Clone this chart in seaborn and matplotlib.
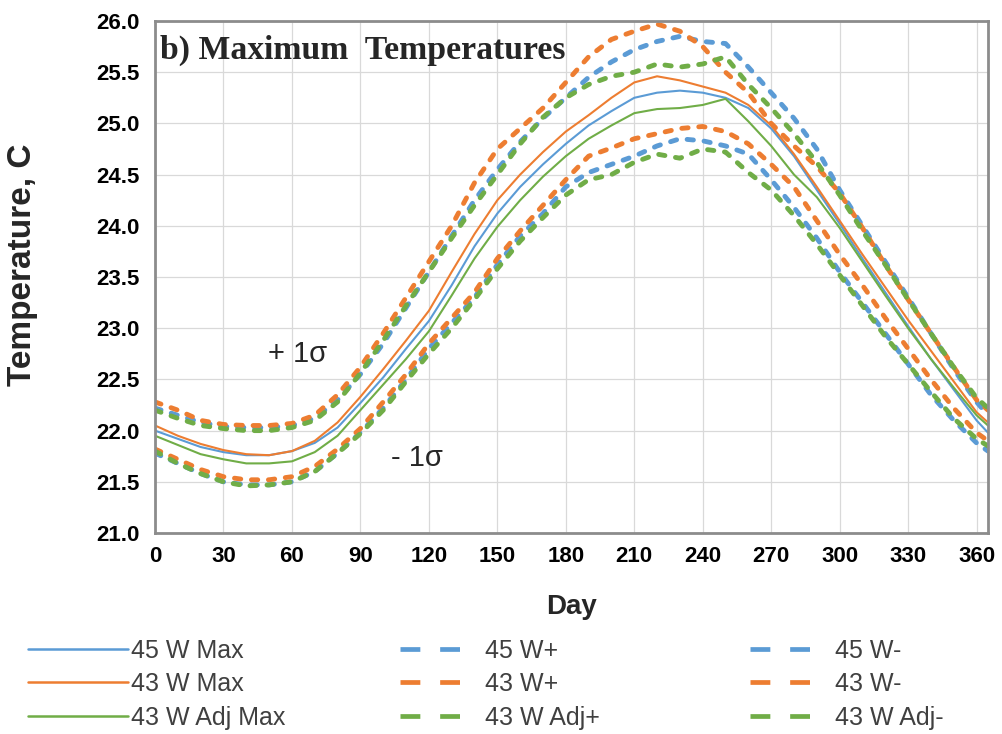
import matplotlib
matplotlib.use("Agg")
import matplotlib.pyplot as plt
import seaborn as sns
import pandas as pd
from matplotlib.lines import Line2D

# ---------------- data ----------------
days = [0, 10, 20, 30, 40, 50, 60, 70, 80, 90, 100, 110, 120, 130, 140, 150, 160, 170, 180,
        190, 200, 210, 220, 230, 240, 250, 260, 270, 280, 290, 300, 310, 320, 330, 340, 350, 360, 365]

w45_max = [22.00, 21.92, 21.84, 21.79, 21.76, 21.76, 21.80, 21.88, 22.03, 22.27, 22.52, 22.80, 23.07,
           23.42, 23.80, 24.12, 24.38, 24.60, 24.80, 24.98, 25.12, 25.25, 25.30, 25.32, 25.30, 25.25,
           25.15, 24.95, 24.68, 24.35, 24.02, 23.68, 23.35, 23.02, 22.70, 22.40, 22.10, 21.98]
w43_max = [22.05, 21.95, 21.87, 21.81, 21.77, 21.76, 21.80, 21.90, 22.08, 22.33, 22.60, 22.88, 23.17,
           23.55, 23.92, 24.25, 24.50, 24.72, 24.92, 25.08, 25.25, 25.40, 25.46, 25.42, 25.36, 25.30,
           25.18, 24.98, 24.70, 24.38, 24.05, 23.72, 23.40, 23.08, 22.78, 22.48, 22.18, 22.08]
w43adj_max = [21.95, 21.86, 21.77, 21.72, 21.68, 21.68, 21.70, 21.79, 21.95, 22.20, 22.45, 22.70, 22.97,
              23.32, 23.68, 23.99, 24.25, 24.48, 24.68, 24.85, 24.98, 25.10, 25.14, 25.15, 25.18, 25.24,
              25.02, 24.78, 24.50, 24.28, 23.98, 23.65, 23.32, 23.00, 22.70, 22.42, 22.15, 22.05]

w45_plus = [22.22, 22.15, 22.08, 22.04, 22.03, 22.03, 22.05, 22.12, 22.30, 22.55, 22.85, 23.20, 23.55,
            23.90, 24.25, 24.55, 24.82, 25.05, 25.25, 25.45, 25.60, 25.72, 25.80, 25.85, 25.80, 25.78,
            25.55, 25.30, 25.05, 24.75, 24.35, 24.00, 23.65, 23.30, 22.95, 22.60, 22.28, 22.15]
w43_plus = [22.28, 22.20, 22.10, 22.06, 22.05, 22.05, 22.07, 22.15, 22.35, 22.62, 22.95, 23.30, 23.65,
            24.00, 24.42, 24.75, 24.95, 25.15, 25.40, 25.65, 25.82, 25.90, 25.97, 25.90, 25.75, 25.50,
            25.30, 25.00, 24.78, 24.58, 24.32, 23.98, 23.62, 23.28, 22.95, 22.62, 22.30, 22.20]
w43adj_plus = [22.20, 22.12, 22.05, 22.02, 22.00, 22.00, 22.03, 22.10, 22.28, 22.56, 22.88, 23.22, 23.55,
               23.88, 24.20, 24.50, 24.80, 25.06, 25.25, 25.38, 25.46, 25.50, 25.58, 25.55, 25.58, 25.65,
               25.38, 25.15, 24.90, 24.62, 24.30, 23.95, 23.62, 23.28, 22.95, 22.62, 22.32, 22.22]

w45_minus = [21.78, 21.68, 21.58, 21.50, 21.47, 21.47, 21.50, 21.60, 21.78, 21.98, 22.22, 22.50, 22.80,
             23.05, 23.30, 23.62, 23.90, 24.12, 24.38, 24.52, 24.60, 24.68, 24.78, 24.85, 24.83, 24.78,
             24.70, 24.45, 24.18, 23.88, 23.55, 23.25, 22.95, 22.65, 22.35, 22.10, 21.88, 21.80]
w43_minus = [21.82, 21.72, 21.62, 21.55, 21.52, 21.52, 21.55, 21.65, 21.82, 22.02, 22.28, 22.55, 22.85,
             23.10, 23.35, 23.68, 23.95, 24.20, 24.45, 24.68, 24.76, 24.85, 24.90, 24.95, 24.97, 24.92,
             24.80, 24.60, 24.38, 24.05, 23.72, 23.42, 23.10, 22.80, 22.50, 22.22, 21.98, 21.90]
w43adj_minus = [21.80, 21.68, 21.58, 21.50, 21.46, 21.47, 21.50, 21.60, 21.78, 21.97, 22.20, 22.48, 22.75,
                23.00, 23.28, 23.58, 23.85, 24.08, 24.30, 24.45, 24.50, 24.62, 24.70, 24.66, 24.75, 24.72,
                24.52, 24.35, 24.10, 23.82, 23.52, 23.22, 22.92, 22.65, 22.38, 22.12, 21.92, 21.85]

series_names = ["45 W Max", "43 W Max", "43 W Adj Max",
                "45 W+", "43 W+", "43 W Adj+",
                "45 W-", "43 W-", "43 W Adj-"]
series_values = [w45_max, w43_max, w43adj_max,
                 w45_plus, w43_plus, w43adj_plus,
                 w45_minus, w43_minus, w43adj_minus]

x_ticks = [0, 30, 60, 90, 120, 150, 180, 210, 240, 270, 300, 330, 360]
y_ticks = [21.0, 21.5, 22.0, 22.5, 23.0, 23.5, 24.0, 24.5, 25.0, 25.5, 26.0]

# ---------------- styling ----------------
BLUE, ORANGE, GREEN = "#5B9BD5", "#ED7D31", "#70AD47"
colors = [BLUE, ORANGE, GREEN] * 3
dashed = [False] * 3 + [True] * 6

sns.set_theme(style="white")
SANS = ["Liberation Sans", "DejaVu Sans"]
plt.rcParams["font.family"] = SANS

rows = []
for name, vals in zip(series_names, series_values):
    for d, v in zip(days, vals):
        rows.append({"Day": d, "Temp": v, "Series": name})
df = pd.DataFrame(rows)

fig = plt.figure(figsize=(10.02, 7.34), dpi=100)
ax = fig.add_axes([0.1547, 0.2738, 0.8313, 0.6976])

# draw dashed first, solid on top
order = [3, 4, 5, 6, 7, 8, 0, 1, 2]
for i in order:
    name = series_names[i]
    sub = df[df["Series"] == name]
    if dashed[i]:
        sns.lineplot(data=sub, x="Day", y="Temp", ax=ax, color=colors[i], linewidth=3.5,
                     linestyle=(0, (1.3, 2.2)), dash_capstyle="round", legend=False,
                     estimator=None, sort=False)
    else:
        sns.lineplot(data=sub, x="Day", y="Temp", ax=ax, color=colors[i], linewidth=1.5,
                     legend=False, estimator=None, sort=False)

ax.set_xlim(0, 365)
ax.set_ylim(21.0, 26.0)
ax.set_xticks(x_ticks)
ax.set_yticks(y_ticks)
ax.set_xticklabels([str(t) for t in x_ticks])
ax.set_yticklabels([f"{t:.1f}" for t in y_ticks])
ax.grid(True, color="#d9d9d9", linewidth=0.9)
ax.set_axisbelow(True)
for sp in ax.spines.values():
    sp.set_visible(True)
    sp.set_color("#8c8c8c")
    sp.set_linewidth(2.0)
ax.tick_params(axis="both", length=0, labelsize=16, colors="black")
ax.tick_params(axis="y", pad=11)
ax.tick_params(axis="x", pad=9)
for lab in ax.get_xticklabels() + ax.get_yticklabels():
    lab.set_fontweight("bold")

ax.set_xlabel("Day", fontsize=20, fontweight="bold", labelpad=20)
ax.set_ylabel("Temperature, C", fontsize=24, fontweight="bold")
ax.yaxis.set_label_coords(-0.1405, 0.523)

ax.text(0.006, 0.943, "b) Maximum  Temperatures", transform=ax.transAxes, ha="left", va="center",
        fontsize=24.3, fontweight="bold", family=["Liberation Serif", "DejaVu Serif"])
ax.text(62.6, 22.75, "+ 1\u03c3", ha="center", va="center", fontsize=21)
ax.text(114.8, 21.73, "- 1\u03c3", ha="center", va="center", fontsize=21)

# ---------------- legend: three columns ----------------
col_x = [0.028, 0.399, 0.749]
for c in range(3):
    handles, labels = [], []
    for r in range(3):
        i = c * 3 + r
        if dashed[i]:
            h = Line2D([], [], color=colors[i], linewidth=3.4, linestyle=(0, (4.2, 4.2)))
        else:
            h = Line2D([], [], color=colors[i], linewidth=1.8)
        handles.append(h)
        labels.append(series_names[i])
    leg = fig.legend(handles, labels, loc="upper left", bbox_to_anchor=(col_x[c], 0.130),
                     frameon=False, fontsize=18, handlelength=(4.0 if c == 0 else 2.4),
                     handletextpad=(0.12 if c == 0 else 1.0), labelspacing=0.38,
                     borderaxespad=0, borderpad=0)
    for t in leg.get_texts():
        t.set_color("#404040")

fig.savefig("out.png", dpi=100)
